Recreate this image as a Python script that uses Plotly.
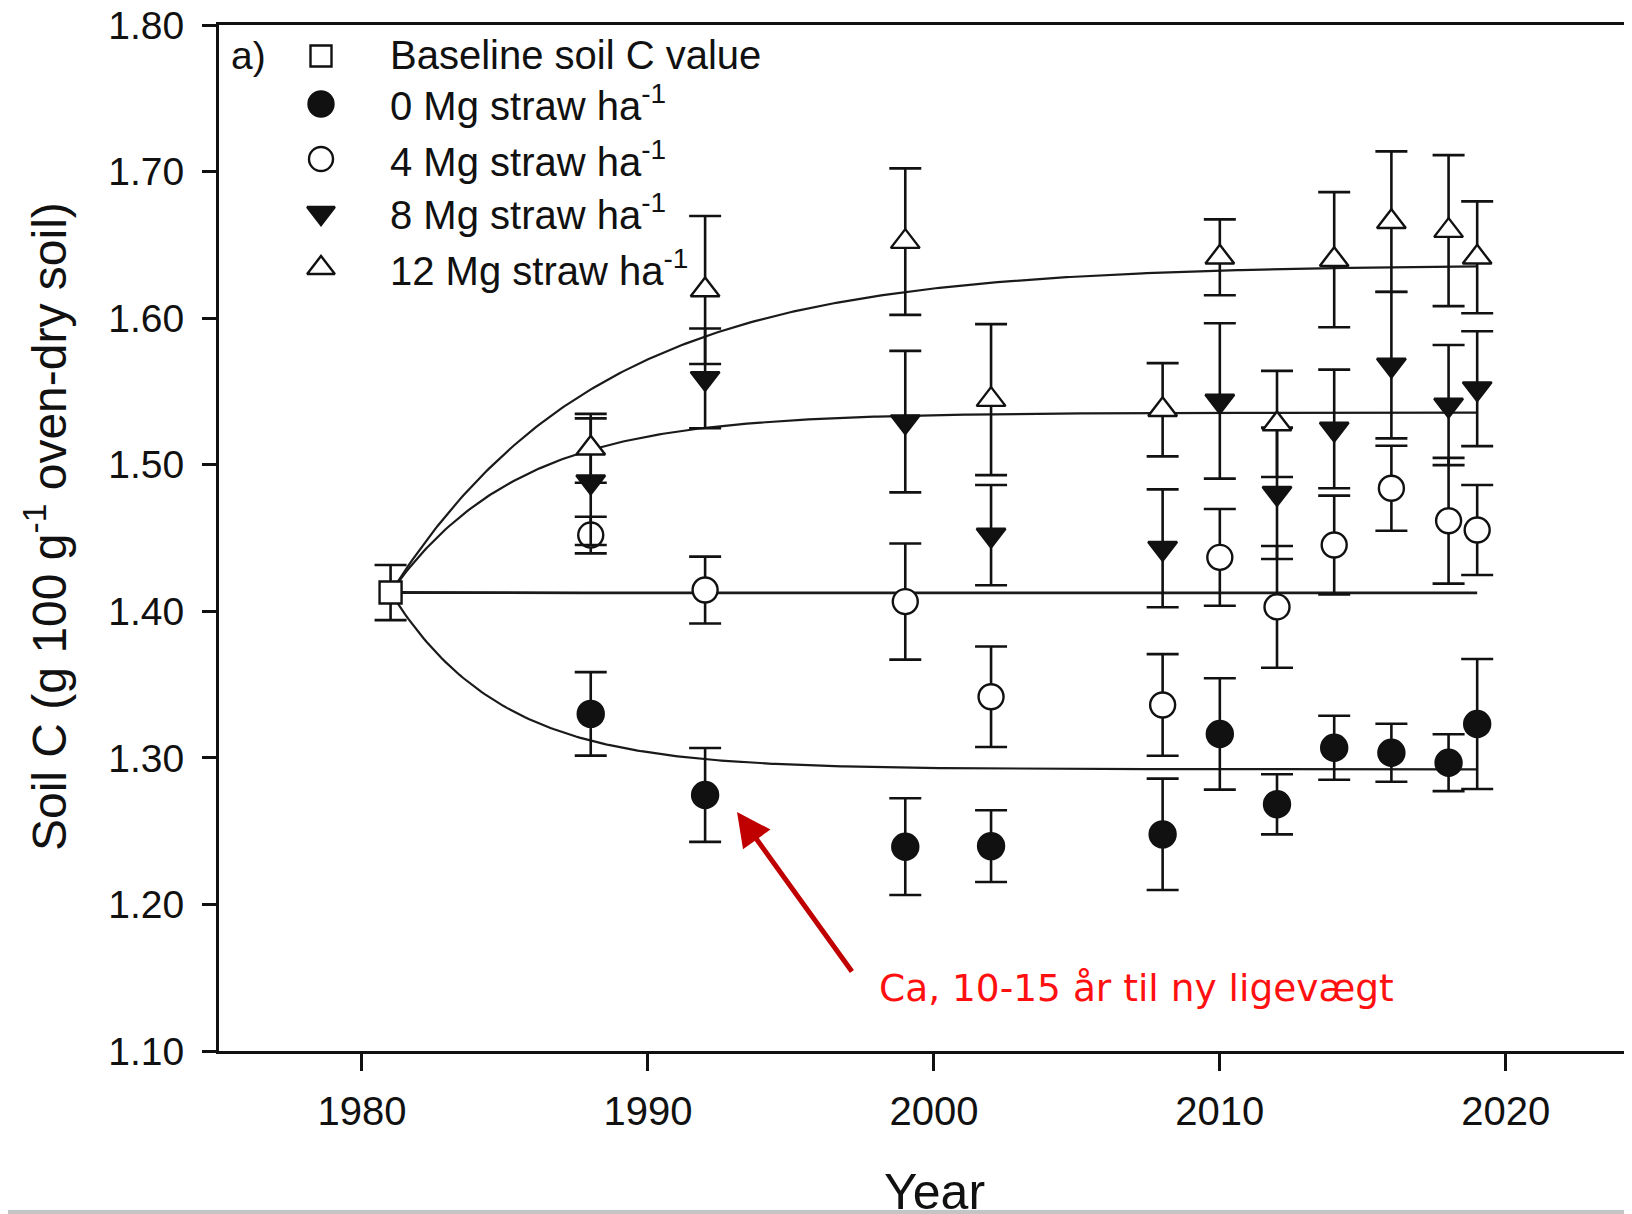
import numpy as np
import plotly.graph_objects as go

# ---------------- data ----------------
years = [1988, 1992, 1999, 2002, 2008, 2010, 2012, 2014, 2016, 2018, 2019]

baseline_year = [1981]
baseline_val = [1.4128]
baseline_se = [0.0188]

mg0 = [1.3300, 1.2747, 1.2394, 1.2398, 1.2478, 1.3163, 1.2683, 1.3069, 1.3035, 1.2967, 1.3231]
mg0_se = [0.0285, 0.0320, 0.0330, 0.0245, 0.0380, 0.0380, 0.0205, 0.0218, 0.0198, 0.0194, 0.0443]

mg4 = [1.4520, 1.4145, 1.4066, 1.3417, 1.3361, 1.4368, 1.4030, 1.4452, 1.4839, 1.4618, 1.4555]
mg4_se = [0.0125, 0.0228, 0.0396, 0.0343, 0.0347, 0.0330, 0.0415, 0.0337, 0.0290, 0.0429, 0.0307]

mg8 = [1.4884, 1.5589, 1.5294, 1.4520, 1.4430, 1.5435, 1.4805, 1.5244, 1.5680, 1.5407, 1.5519]
mg8_se = [0.0432, 0.0340, 0.0483, 0.0342, 0.0402, 0.0530, 0.0448, 0.0405, 0.0500, 0.0410, 0.0392]

mg12 = [1.5112, 1.6192, 1.6522, 1.5444, 1.5375, 1.6415, 1.5278, 1.6399, 1.6658, 1.6597, 1.6415]
mg12_se = [0.0235, 0.0505, 0.0500, 0.0515, 0.0318, 0.0259, 0.0362, 0.0461, 0.0480, 0.0515, 0.0382]

# fitted exponential approach curves: asymptote and rate constant per treatment
fit_asymptote = [1.2922, 1.4125, 1.5355, 1.6365]
fit_rate = [0.26, 0.20, 0.225, 0.138]
fit_start, fit_end = 1981, 2019

legend_labels = ["Baseline soil C value",
                 "0 Mg straw ha<sup>-1</sup>",
                 "4 Mg straw ha<sup>-1</sup>",
                 "8 Mg straw ha<sup>-1</sup>",
                 "12 Mg straw ha<sup>-1</sup>"]

x_ticks = [1980, 1990, 2000, 2010, 2020]
y_ticks = [1.1, 1.2, 1.3, 1.4, 1.5, 1.6, 1.7, 1.8]
note_text = "Ca, 10-15 år til ny ligevægt"

# ---------------- layout geometry (screen pixels) ----------------
SCREEN_W, SCREEN_H = 1632, 1214
OFF = 8                       # page body margin
W, H = SCREEN_W - OFF, SCREEN_H - OFF
AX_L, AX_T, AX_B = 219, 25, 1051   # plot-area edges in screen pixels
L, T = AX_L - OFF, AX_T - OFF
B = H - (AX_B - OFF)
R = 0
PW, PH = W - L - R, H - T - B
PX_PER_YEAR = 28.595
X0 = 1975
X1 = X0 + PW / PX_PER_YEAR

def px(fx):
    return (fx - AX_L) / PW

def py(fy):
    return (AX_B - fy) / PH

FONT = "Liberation Sans, Arial, sans-serif"
BLACK = "#111111"

fig = go.Figure()

# curves
t = np.linspace(fit_start, fit_end, 300)
for i, (a, k) in enumerate(zip(fit_asymptote, fit_rate)):
    c = a + (baseline_val[0] - a) * np.exp(-k * (t - fit_start))
    fig.add_trace(go.Scatter(x=t, y=c, mode="lines",
                             line=dict(color="#1a1a1a", width=2.8 if i == 1 else 2.2),
                             hoverinfo="skip", showlegend=False))

err_style = dict(type="data", visible=True, color=BLACK, thickness=2.6, width=16)

series = [
    (baseline_year, baseline_val, baseline_se, "square", 22, "white"),
    (years, mg0, mg0_se, "circle", 26, BLACK),
    (years, mg4, mg4_se, "circle", 25, "white"),
    (years, mg8, mg8_se, "triangle-down", 25, BLACK),
    (years, mg12, mg12_se, "triangle-up", 25, "white"),
]
for xs, ys, se, sym, size, fill in series:
    fig.add_trace(go.Scatter(
        x=xs, y=ys, mode="markers",
        marker=dict(symbol=sym, size=size, color=fill, opacity=1,
                    line=dict(color=BLACK, width=2.4)),
        error_y=dict(array=se, **err_style),
        cliponaxis=False, showlegend=False))

# legend key symbols on a pixel-coordinate overlay axis
leg_y = [56, 104, 159, 213, 268]
leg_text_y = [55, 103, 159, 212, 268]
for (xs, ys, se, sym, size, fill), yy in zip(series, leg_y):
    fig.add_trace(go.Scatter(
        x=[321], y=[yy], mode="markers", xaxis="x2", yaxis="y2",
        marker=dict(symbol=sym, size=size - 1, color=fill, opacity=1,
                    line=dict(color=BLACK, width=2.4)),
        cliponaxis=False, showlegend=False, hoverinfo="skip"))

annotations = []
for lab, yy in zip(legend_labels, leg_text_y):
    annotations.append(dict(xref="paper", yref="paper", x=px(388), y=py(yy),
                            xanchor="left", yanchor="middle", showarrow=False,
                            text=lab, font=dict(family=FONT, size=40, color=BLACK)))
annotations.append(dict(xref="paper", yref="paper", x=px(229), y=py(55),
                        xanchor="left", yanchor="middle", showarrow=False,
                        text="a)", font=dict(family=FONT, size=39, color=BLACK)))
# axis titles
annotations.append(dict(xref="paper", yref="paper", x=px(46), y=py(527),
                        xanchor="center", yanchor="middle", showarrow=False, textangle=-90,
                        text="Soil C (g 100 g<sup>-1</sup> oven-dry soil)",
                        font=dict(family=FONT, size=48, color=BLACK)))
annotations.append(dict(xref="paper", yref="paper", x=px(934), y=py(1192),
                        xanchor="center", yanchor="middle", showarrow=False,
                        text="Year", font=dict(family=FONT, size=50, color=BLACK)))
# red note and arrow
annotations.append(dict(xref="paper", yref="paper", x=px(877), y=py(988),
                        xanchor="left", yanchor="middle", showarrow=False,
                        text=note_text, font=dict(family="DejaVu Sans, sans-serif", size=37.5,
                                                  color="#ff1010")))
annotations.append(dict(xref="paper", yref="paper", x=px(737), y=py(812),
                        ax=116, ay=161, axref="pixel", ayref="pixel",
                        text="", showarrow=True, arrowhead=2, arrowsize=1.35,
                        arrowwidth=5, arrowcolor="#c00000", standoff=0))

shapes = [
    dict(type="rect", xref="paper", yref="paper", x0=px(OFF), x1=px(SCREEN_W), y0=py(1214), y1=py(1210),
         fillcolor="#c4c4c4", line=dict(width=0)),
]

fig.update_layout(
    width=W, height=H, autosize=False,
    margin=dict(l=L, r=R, t=T, b=B, pad=0, autoexpand=False),
    plot_bgcolor="white", paper_bgcolor="white",
    showlegend=False,
    annotations=annotations, shapes=shapes,
    xaxis=dict(range=[X0, X1], tickvals=x_ticks, ticks="outside", ticklen=17, tickwidth=2.5,
               tickcolor=BLACK, showline=True, linewidth=3, linecolor=BLACK, mirror=True,
               showgrid=False, zeroline=False, ticklabelstandoff=6, ticklabeloverflow="allow",
               automargin=False,
               tickfont=dict(family=FONT, size=40, color=BLACK)),
    yaxis=dict(range=[1.10, 1.80], tickvals=y_ticks,
               tickformat=".2f", ticks="outside", ticklen=14, tickwidth=2.5,
               tickcolor=BLACK, showline=True, linewidth=3, linecolor=BLACK,
               showgrid=False, zeroline=False, ticklabelstandoff=10, ticklabeloverflow="allow",
               automargin=False,
               tickfont=dict(family=FONT, size=39, color=BLACK)),
    xaxis2=dict(overlaying="x", range=[AX_L, SCREEN_W], visible=False, anchor="y2"),
    yaxis2=dict(overlaying="y", range=[AX_B, AX_T], visible=False, anchor="x2"),
)

fig.write_html("out.html")
